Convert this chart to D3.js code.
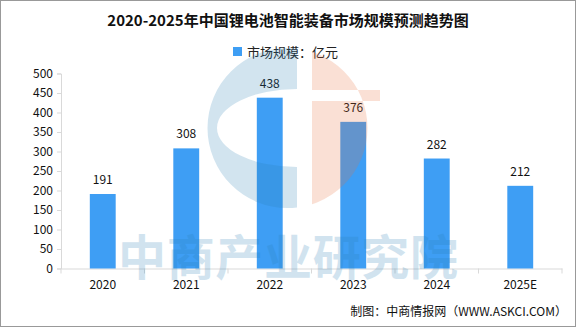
<!DOCTYPE html>
<html><head><meta charset="utf-8">
<script src="https://cdn.jsdelivr.net/npm/d3@7"></script>
<style>body{margin:0;background:#fff}svg{display:block}text{font-family:"Noto Sans CJK SC","Liberation Sans",sans-serif}</style>
</head><body>
<svg id="c" width="576" height="327"></svg>
<script>
const categories = ["2020","2021","2022","2023","2024","2025E"];
const values = [191,308,438,376,282,212];
const yTicks = [0,50,100,150,200,250,300,350,400,450,500];
const title = "2020-2025年中国锂电池智能装备市场规模预测趋势图";
const seriesName = "市场规模：亿元";
const source = "制图：中商情报网（WWW.ASKCI.COM）";

const svg = d3.select("#c");
const W = 576, H = 327;
const m = {l:61, r:14, t:73.5, b:58.5};
const x = d3.scaleBand().domain(categories).range([m.l, W - m.r]).paddingInner(0.69).paddingOuter(0.345);
const xb = d3.scaleBand().domain(categories).range([m.l, W - m.r]);
const y = d3.scaleLinear().domain([0,500]).range([H - m.b, m.t]);
const barColor = "#3e9ef4";

svg.append("rect").attr("x",0.5).attr("y",0.5).attr("width",W-1).attr("height",H-1).attr("fill","#fff").attr("stroke","#999");

svg.append("text").attr("x",288).attr("y",26).attr("text-anchor","middle")
  .attr("font-size",15).attr("font-weight","bold").attr("fill","#111").text(title);

// legend
svg.append("rect").attr("x",233).attr("y",47).attr("width",9).attr("height",9).attr("fill",barColor);
svg.append("text").attr("x",247).attr("y",57).attr("font-size",13).attr("fill","#222").text(seriesName);

// y axis
const ya = svg.append("g").attr("transform",`translate(${m.l},0)`)
  .call(d3.axisLeft(y).tickValues(yTicks).tickSize(4).tickPadding(4));
ya.select(".domain").attr("stroke","#d9d9d9");
ya.selectAll(".tick line").attr("stroke","#d9d9d9");
ya.selectAll("text").attr("font-size",12).attr("fill","#111").attr("font-family","Liberation Sans, sans-serif");

// x axis
const xa = svg.append("g").attr("transform",`translate(0,${y(0)})`)
  .call(d3.axisBottom(xb).tickSize(0).tickPadding(12));
xa.select(".domain").attr("stroke","#d9d9d9");
xa.selectAll("text").attr("font-size",12).attr("fill","#111").attr("font-family","Liberation Sans, sans-serif");
const bounds = categories.map(c => xb(c)).concat([xb(categories[categories.length-1]) + xb.bandwidth()]);
xa.selectAll(".bt").data(bounds).enter().append("line").attr("class","bt")
  .attr("x1",d=>d).attr("x2",d=>d).attr("y1",0).attr("y2",5).attr("stroke","#d9d9d9");

// bars
svg.selectAll(".bar").data(values).enter().append("rect")
  .attr("x",(d,i)=>x(categories[i])).attr("width",x.bandwidth())
  .attr("y",d=>y(d)).attr("height",d=>y(0)-y(d)).attr("fill",barColor);
svg.selectAll(".lbl").data(values).enter().append("text")
  .attr("x",(d,i)=>x(categories[i])+x.bandwidth()/2).attr("y",d=>y(d)-10)
  .attr("text-anchor","middle").attr("font-size",12).attr("fill","#111")
  .attr("font-family","Liberation Sans, sans-serif").text(d=>d);

// watermark
const wm = svg.append("g").attr("pointer-events","none");
const defs = svg.append("defs");
defs.append("clipPath").attr("id","cl").append("rect").attr("x",200).attr("y",40).attr("width",97).attr("height",180);
defs.append("clipPath").attr("id","cr").append("rect").attr("x",312).attr("y",40).attr("width",70).attr("height",180);
const blue = "rgb(43,128,181)", orange = "rgb(232,114,64)";
wm.append("path").attr("clip-path","url(#cl)").attr("fill-rule","evenodd").attr("fill",blue).attr("opacity",0.21)
  .attr("d","M367.5,128 A80,80 0 1 0 207.5,128 A80,80 0 1 0 367.5,128 Z M377,128 A80,39 0 1 0 217,128 A80,39 0 1 0 377,128 Z");
wm.append("path").attr("clip-path","url(#cr)").attr("fill",orange).attr("opacity",0.22).attr("fill-rule","evenodd")
  .attr("d","M367.5,128 A80,80 0 1 0 207.5,128 A80,80 0 1 0 367.5,128 Z M300,90 L380,90 L380,101 L300,101 Z");
wm.append("text").attr("x",118).attr("y",275).attr("font-size",48).attr("font-weight","bold")
  .attr("fill",blue).attr("opacity",0.21).attr("textLength",340).attr("lengthAdjust","spacing").text("中商产业研究院");

svg.append("text").attr("x",567).attr("y",316).attr("text-anchor","end").attr("font-size",12).attr("fill","#111").text(source);
</script>
</body></html>
